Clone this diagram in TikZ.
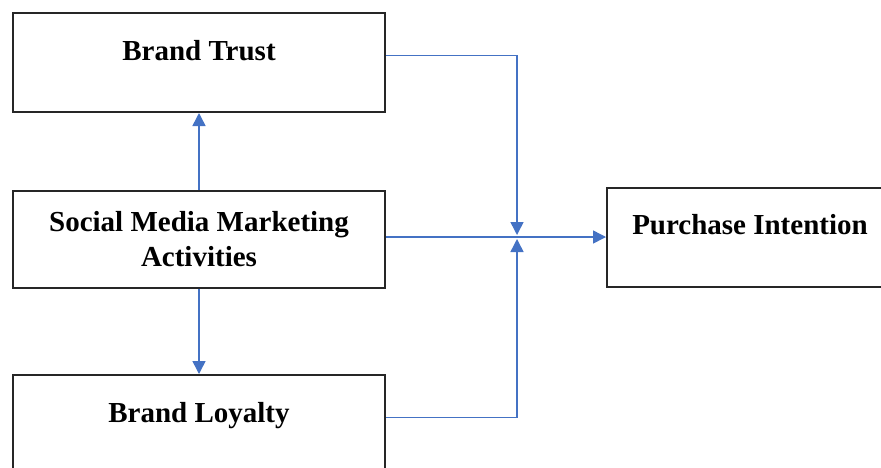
\documentclass[tikz,border=0pt]{standalone}
\usepackage{fontspec}
\setmainfont{Liberation Serif}
\usetikzlibrary{arrows.meta}
\definecolor{linkblue}{RGB}{68,114,196}
\tikzset{
  box/.style    = {draw=black!85, line width=1pt, minimum width=186pt,
                   font=\fontsize{14.5}{17.5}\selectfont\bfseries},
  factor/.style = {box, inner ysep=0pt, text height=23.5pt, text depth=26pt},
  link/.style   = {draw=linkblue, line width=0.75pt, ->},
  >={Triangle[length=6.5pt,width=6.5pt]}
}

\begin{document}
\begin{tikzpicture}[x=0.5pt,y=-0.5pt]
  \useasboundingbox (0,0) rectangle (881,467);
  \clip (0,0) rectangle (881,467);
  % factors
  \node[factor] (BT) at (199,62.5) {Brand Trust};
  \node[box, minimum height=48.5pt, align=center] (SMMA) at (199,239.5)
    {Social Media Marketing\\Activities};
  \node[factor] (BL) at (199,424.5) {Brand Loyalty};
  \node[factor, minimum width=143pt] (PI) at (750,237) {Purchase Intention};
  \coordinate (J) at (517,237);
  % links
  \draw[link] (SMMA) -- (BT);
  \draw[link] (SMMA) -- (BL);
  \draw[link, shorten >=1pt] (BT.mid east) -| (J);
  \draw[link, shorten >=1pt] (BL.mid east) -| (J);
  \draw[link] (SMMA.east |- J) -- (PI.west);
\end{tikzpicture}
\end{document}
